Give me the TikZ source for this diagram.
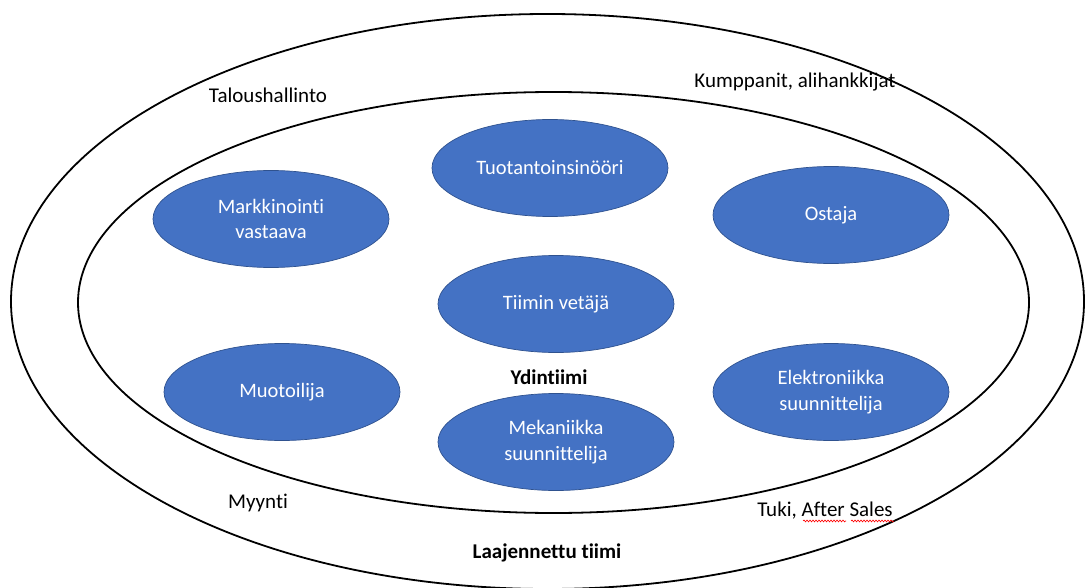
\documentclass[tikz,border=0pt]{standalone}
\usepackage{fontspec}
\setmainfont{Carlito}[Ligatures=NoCommon]
\usetikzlibrary{shapes.geometric,calc,decorations.pathmorphing}
\definecolor{rolefill}{HTML}{4472C4}
\definecolor{roleline}{HTML}{2F528F}

\begin{document}
\begin{tikzpicture}[x=1pt,y=-1pt,
  ring/.style={draw=black,line width=1.8pt},
  role/.style={ellipse,draw=roleline,line width=0.7pt,fill=rolefill,text=white,
    minimum width=236pt,minimum height=97pt,inner sep=0pt,align=center,
    font=\fontsize{20.5}{25.5}\selectfont},
  lbl/.style={font=\fontsize{21}{25.6}\selectfont,inner sep=0pt},
  spell/.style={red,line width=0.6pt,decorate,
    decoration={snake,amplitude=0.9pt,segment length=3pt}}]
  \useasboundingbox (0,0) rectangle (1086,588);
  % the two rings
  \draw[ring] (547.5,301.5) ellipse [x radius=536.5,y radius=287.5];
  \draw[ring] (553.5,302.5) ellipse [x radius=475.5,y radius=210.5];
  % core team roles
  \foreach \n/\x/\y/\t in {tuot/550/168/Tuotantoinsinööri,
      mark/271/219/{Markkinointi\\vastaava},
      osta/831/215/Ostaja,
      veta/556/304/Tiimin vetäjä,
      muot/282/392/Muotoilija,
      meka/556/442/{Mekaniikka\\suunnittelija},
      elek/831/392/{Elektroniikka\\suunnittelija}}
    \node[role] (\n) at (\x,\y) {\t};
  \node[lbl,font=\fontsize{21}{25.6}\selectfont\bfseries] (ydin) at (549,377) {Ydintiimi};
  % extended team
  \node[lbl] (talous) at (268,95) {Taloushallinto};
  \node[lbl] (kumpp) at (795,82) {Kumppanit, alihankkijat};
  \node[lbl] (myynti) at (258,503) {Myynti};
  \node[lbl] (tuki) at (825,511) {Tuki, After Sales};
  \node[lbl,font=\fontsize{21}{25.6}\selectfont\bfseries] (laaj) at (547,553) {Laajennettu tiimi};
  % spell check marks
  \draw[spell] ($(tuki.base west)+(46,4)$) -- ++(43,0);
  \draw[spell] ($(tuki.base west)+(94,4)$) -- ++(43,0);
\end{tikzpicture}
\end{document}
